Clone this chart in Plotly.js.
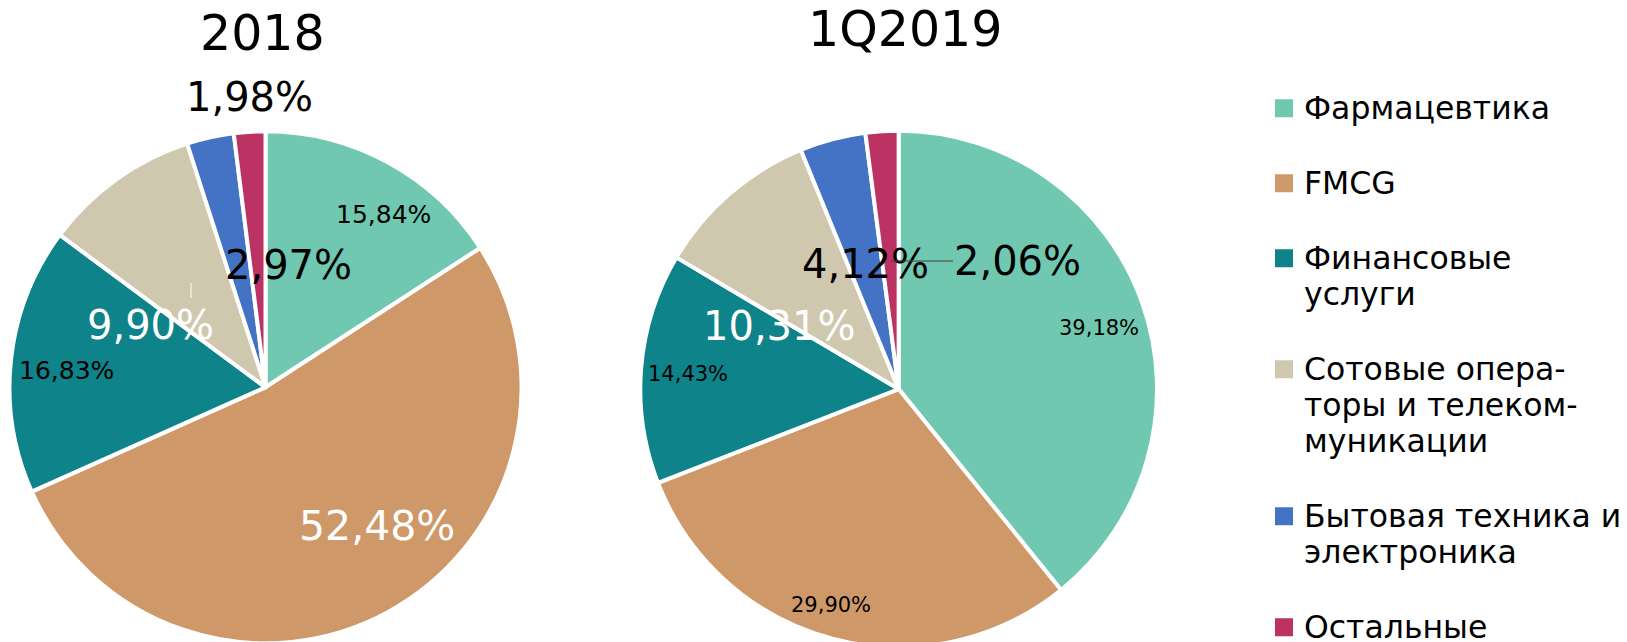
<!DOCTYPE html>
<html><head><meta charset="utf-8">
<script src="https://cdn.plot.ly/plotly-3.0.1.min.js"></script>
<style>html,body{margin:0;padding:0;overflow:hidden;background:#fff}</style>
</head><body><div id="chart" style="width:1627px;height:670px"></div>
<script>
// ---- data ----
const categories = ['Фармацевтика', 'FMCG', 'Финансовые услуги', 'Сотовые операторы и телекоммуникации', 'Бытовая техника и электроника', 'Остальные'];
const legendLines = [['Фармацевтика'], ['FMCG'], ['Финансовые', 'услуги'], ['Сотовые опера-', 'торы и телеком-', 'муникации'], ['Бытовая техника и', 'электроника'], ['Остальные']];
const periods = ['2018', '1Q2019'];
const share2018 = [15.84, 52.48, 16.83, 9.90, 2.97, 1.98];
const share1Q2019 = [39.18, 29.90, 14.43, 10.31, 4.12, 2.06];

// ---- style ----
const sliceColors = ['#71C8B1', '#CF9868', '#0E838A', '#CFC8AF', '#4472C4', '#BB3263'];
const W = 1627, H = 670;
const FONT = 'DejaVu Sans';
const fmt = v => v.toFixed(2).replace('.', ',') + '%';
const px = x => x / W, py = y => 1 - y / H;

// legend names: larger glyphs inside the normal line pitch, blank trailing line = gap between entries
const legendNames = legendLines.map((lines, i) => {
  const t = lines.map(l => '<span style="font-size:31.5px">' + l + '</span>').join('<br>');
  return i < legendLines.length - 1 ? t + '<br>&nbsp;' : t;
});

function pieTrace(values, domain) {
  return {
    type: 'pie', name: '', labels: legendNames, values: values, domain: domain,
    sort: false, direction: 'clockwise', rotation: 0,
    marker: {colors: sliceColors, line: {color: '#ffffff', width: 4}},
    textinfo: 'none',
    hovertemplate: '%{value:.2f}%<extra></extra>'
  };
}

const traces = [
  pieTrace(share2018, {x: [px(9.5), px(521.5)], y: [py(643.3), py(131.3)]}),
  pieTrace(share1Q2019, {x: [px(640.3), px(1157)], y: [py(647.4), py(130.7)]})
];

// data-label placement (as in the original chart)
const labelPlacement = [
  {values: share2018,
   pos: [[383, 215], [377, 526], [66, 370], [150, 325], [288, 265], [249, 97]],
   size: [25, 41, 25, 40, 40, 40],
   color: ['#000', '#fff', '#000', '#fff', '#000', '#000']},
  {values: share1Q2019,
   pos: [[1099, 328], [831, 605], [688, 374], [779, 326], [865, 264], [1018, 261]],
   size: [21, 21, 21, 40, 40, 40],
   color: ['#000', '#000', '#000', '#fff', '#000', '#000']}
];

const annotations = [];
labelPlacement.forEach((lp, k) => {
  lp.values.forEach((v, i) => {
    const a = {
      xref: 'paper', yref: 'paper', x: px(lp.pos[i][0]), y: py(lp.pos[i][1]),
      xanchor: 'center', yanchor: 'middle', text: fmt(v), showarrow: false,
      font: {family: FONT, size: lp.size[i], color: lp.color[i]}
    };
    if (k === 1 && i === 5) {
      // leader line of the 2,06% label
      Object.assign(a, {x: px(891), y: py(261), ax: lp.pos[i][0] - 891, ay: 0, showarrow: true,
        arrowhead: 0, arrowwidth: 1, arrowcolor: '#404040', standoff: 0, startstandoff: 0});
    }
    annotations.push(a);
  });
});
// small white leader of the 9,90% label
annotations.push({xref: 'paper', yref: 'paper', x: px(191), y: py(283), ax: 0, ay: 17, text: '&nbsp;',
  showarrow: true, arrowhead: 0, arrowwidth: 1, arrowcolor: '#ffffff', standoff: 0, startstandoff: 0,
  font: {family: FONT, size: 1, color: '#fff'}});
// chart titles
annotations.push({xref: 'paper', yref: 'paper', x: px(262), y: py(34), xanchor: 'center', yanchor: 'middle',
  text: periods[0], showarrow: false, font: {family: FONT, size: 49, color: '#000'}});
annotations.push({xref: 'paper', yref: 'paper', x: px(905), y: py(29), xanchor: 'center', yanchor: 'middle',
  text: periods[1], showarrow: false, font: {family: FONT, size: 49, color: '#000'}});

const layout = {
  width: W, height: H,
  margin: {l: 0, r: 0, t: 0, b: 0, pad: 0, autoexpand: false},
  paper_bgcolor: '#fff', plot_bgcolor: '#fff',
  font: {family: FONT, color: '#000'},
  showlegend: true,
  legend: {
    x: px(1264), y: py(83.7), xanchor: 'left', yanchor: 'top', valign: 'top',
    font: {family: FONT, size: 27.7, color: '#000'}, maxheight: 700,
    bgcolor: 'rgba(0,0,0,0)', borderwidth: 0, traceorder: 'normal'
  },
  annotations: annotations
};

Plotly.newPlot('chart', traces, layout, {displayModeBar: false, staticPlot: true}).then(() => {
  document.querySelectorAll('.legendpie').forEach(p => p.setAttribute('d', 'M11,11H-11V-11H11Z'));
});
</script></body></html>
